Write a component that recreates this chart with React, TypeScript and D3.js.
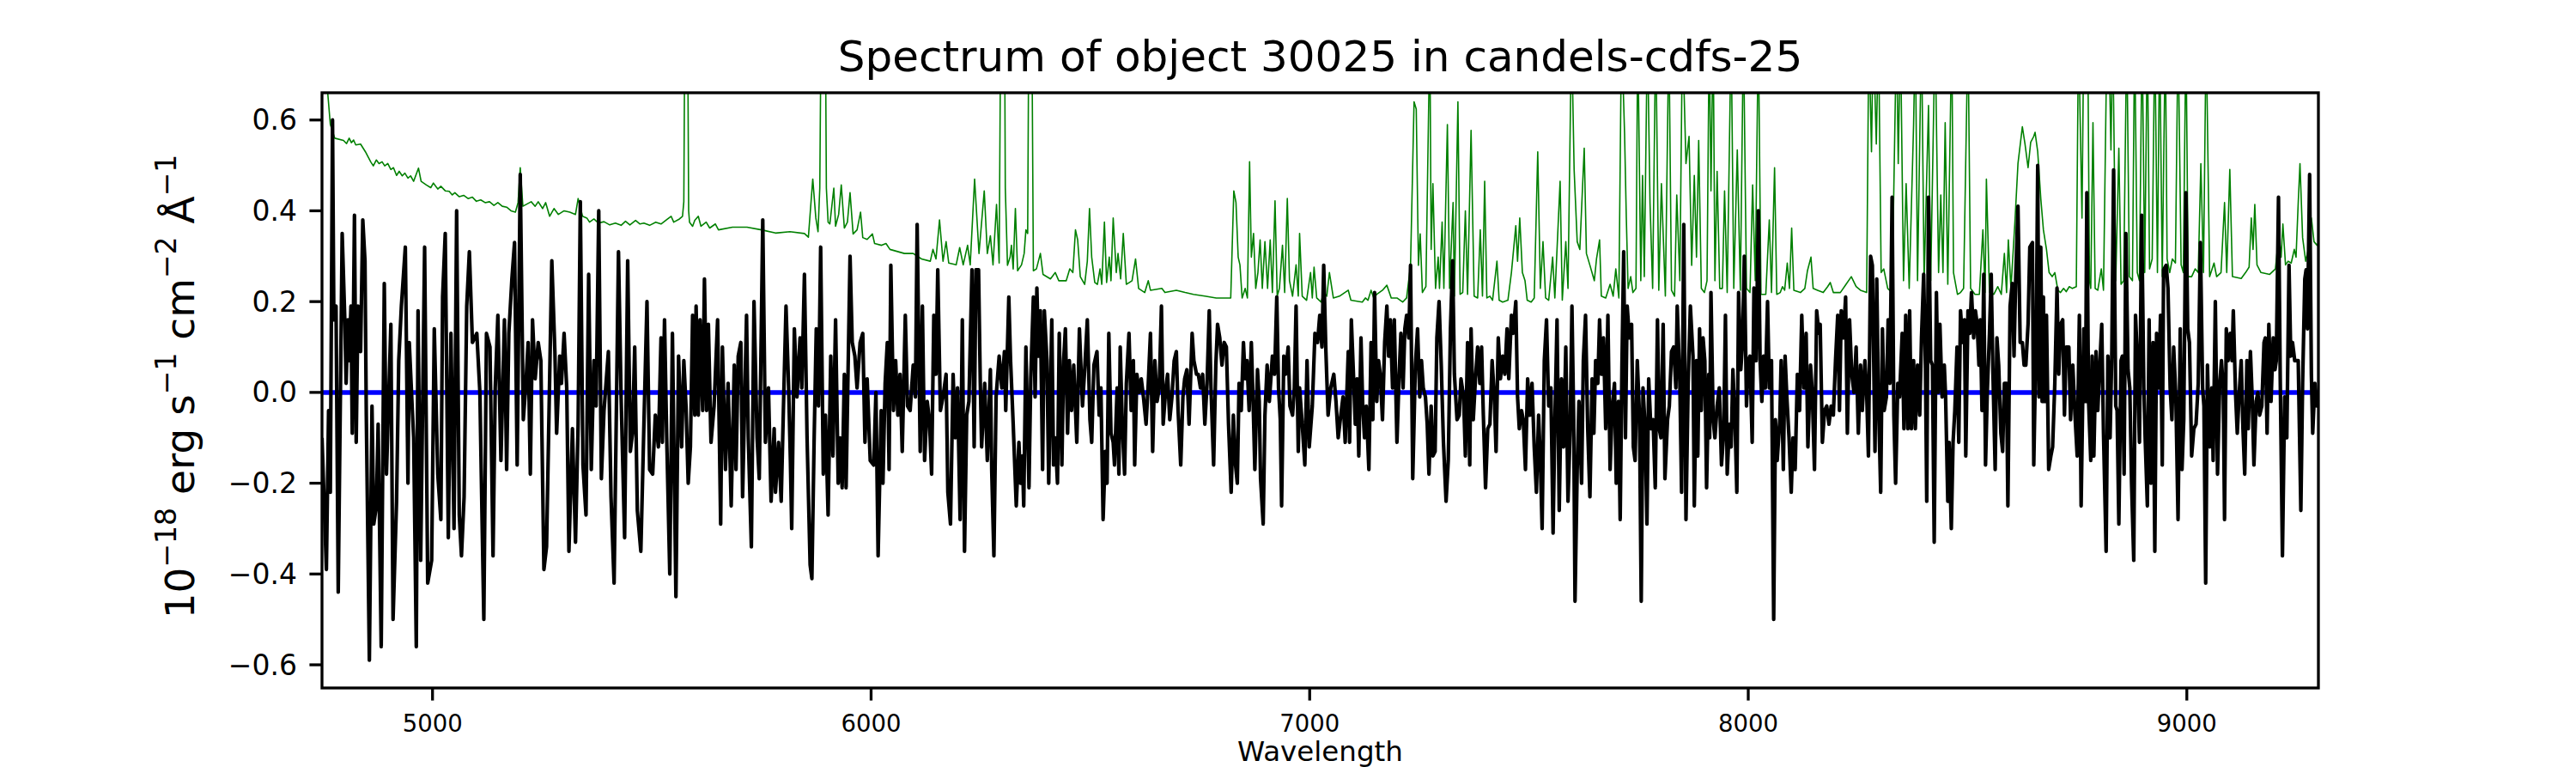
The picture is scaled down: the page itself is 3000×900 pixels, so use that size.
import * as d3 from "d3"

const title = "Spectrum of object 30025 in candels-cdfs-25"
const xTicks = [5000, 6000, 7000, 8000, 9000]
const yTicks = [-0.6, -0.4, -0.2, 0.0, 0.2, 0.4, 0.6]
const waveRange: [number, number] = [4748, 9300]
const fluxRange: [number, number] = [-0.651, 0.66]

// object flux, [wavelength (Å), flux]
const flux: [number, number][] = [
  [4748,-0.10],[4758,-0.39],[4763,-0.04],[4767,-0.22],[4772,0.60],[4775,0.16],[4780,0.19],[4785,-0.44],[4794,0.35],[4800,0.16],
  [4803,0.02],[4807,0.16],[4810,0.07],[4814,0.19],[4817,-0.09],[4822,0.39],[4826,-0.11],[4830,0.19],[4836,0.09],[4841,0.38],
  [4846,0.29],[4849,-0.05],[4856,-0.59],[4862,-0.03],[4866,-0.29],[4872,-0.25],[4876,-0.07],[4883,-0.56],[4890,0.24],[4895,-0.18],
  [4905,0.15],[4910,-0.50],[4918,-0.24],[4923,0.07],[4929,0.19],[4938,0.32],[4944,-0.20],[4947,0.11],[4954,-0.04],[4957,-0.10],
  [4963,-0.56],[4967,0.18],[4973,-0.37],[4982,0.32],[4989,-0.42],[4998,-0.37],[5004,0.14],[5012,-0.18],[5019,-0.28],[5023,0.21],
  [5029,0.35],[5036,-0.32],[5042,0.13],[5049,-0.30],[5055,0.40],[5061,-0.27],[5066,-0.36],[5072,-0.23],[5078,0.19],[5084,0.31],
  [5091,0.11],[5101,0.13],[5108,0.00],[5111,-0.17],[5117,-0.50],[5123,0.13],[5131,0.10],[5138,-0.36],[5143,0.01],[5149,0.17],
  [5156,-0.15],[5164,0.16],[5169,-0.17],[5174,0.13],[5181,0.25],[5187,0.33],[5193,-0.16],[5200,0.48],[5207,-0.06],[5213,0.02],
  [5218,0.11],[5223,-0.18],[5228,0.16],[5234,0.03],[5241,0.11],[5247,0.07],[5254,-0.39],[5260,-0.34],[5272,0.29],[5279,0.09],
  [5283,-0.09],[5290,0.08],[5294,0.02],[5300,0.13],[5306,0.01],[5311,-0.35],[5319,-0.08],[5326,-0.33],[5332,-0.07],[5337,0.42],
  [5343,-0.16],[5350,-0.27],[5356,0.26],[5362,-0.17],[5368,0.07],[5373,-0.03],[5379,0.40],[5385,-0.19],[5391,-0.04],[5401,0.09],
  [5407,-0.23],[5414,-0.42],[5424,0.31],[5430,-0.01],[5438,-0.32],[5445,0.29],[5451,-0.13],[5456,-0.09],[5461,0.10],[5467,-0.26],
  [5475,-0.35],[5482,-0.07],[5489,0.20],[5495,-0.17],[5502,-0.18],[5508,-0.05],[5515,-0.12],
  [5521,0.12],[5524,-0.11],[5529,0.16],[5534,-0.10],[5541,-0.40],[5547,0.13],[5555,-0.45],[5561,0.08],[5568,-0.12],[5573,0.07],
  [5578,-0.03],[5583,-0.20],[5588,-0.12],[5593,0.17],[5598,-0.05],[5601,0.19],[5606,-0.05],[5610,0.16],[5616,-0.04],[5620,0.25],
  [5625,-0.04],[5629,0.15],[5635,-0.11],[5642,-0.03],[5650,0.16],[5657,-0.29],[5661,0.10],[5668,-0.17],[5674,0.02],[5681,-0.25],
  [5688,0.06],[5692,-0.17],[5697,0.08],[5703,0.11],[5707,-0.23],[5716,0.17],[5720,-0.10],[5727,-0.34],[5733,0.20],[5740,-0.10],
  [5745,-0.19],[5753,0.38],[5759,-0.11],[5766,0.01],[5772,-0.24],[5779,-0.08],[5782,-0.22],[5789,-0.11],[5795,-0.24],[5800,-0.04],
  [5806,0.19],[5812,0.01],[5816,-0.15],[5819,-0.30],[5825,0.14],[5831,-0.01],[5838,0.12],[5842,0.01],[5848,0.26],[5854,-0.10],
  [5861,-0.38],[5865,-0.41],[5870,-0.11],[5875,0.14],[5880,-0.03],[5885,0.32],[5891,-0.18],[5896,-0.05],[5902,-0.27],[5908,0.08],
  [5913,-0.14],[5919,0.16],[5925,-0.20],[5929,-0.10],[5934,-0.21],[5939,0.04],[5943,-0.21],[5947,0.02],[5952,0.30],[5957,0.11],
  [5963,0.08],[5968,0.01],[5975,0.11],[5981,0.13],[5986,-0.11],[5991,0.03],[5998,-0.15],[6006,-0.16],[6011,0.00],[6016,-0.36],
  [6023,-0.04],[6027,-0.20],[6032,0.02],[6037,0.11],[6041,-0.17],[6045,0.28],[6051,-0.04],[6056,0.07],[6061,-0.05],[6066,0.04],
  [6071,-0.13],[6078,0.17],[6083,-0.03],[6089,-0.04],[6096,0.06],[6101,-0.01],[6105,0.37],[6112,-0.13],[6117,0.19],[6122,-0.15],
  [6128,-0.02],[6133,-0.06],[6138,-0.18],[6143,0.17],[6148,0.04],[6152,0.27],[6158,-0.04],[6164,-0.01],[6171,0.04],[6175,-0.22],
  [6181,-0.29],[6187,0.04],[6192,-0.10],[6197,0.01],[6203,-0.28],[6208,0.16],[6213,-0.35],[6218,-0.05],[6223,-0.02],[6230,0.27],
  [6235,-0.12],[6239,0.27],[6245,0.27],[6249,0.02],[6252,-0.12],[6259,0.02],[6265,-0.15],[6272,0.05],[6275,-0.17],[6280,-0.36],
  [6285,-0.01],[6292,0.08],[6298,0.01],
  [6304,0.09],[6307,-0.04],[6314,0.21],[6318,0.07],[6324,-0.07],[6331,-0.25],[6337,-0.11],[6341,-0.20],[6345,-0.14],[6348,-0.25],
  [6353,0.10],[6360,-0.21],[6364,0.03],[6370,0.21],[6374,-0.01],[6378,0.23],[6382,0.08],[6386,0.18],[6391,-0.17],[6395,0.18],
  [6401,0.07],[6405,-0.20],[6412,0.16],[6416,-0.16],[6420,-0.10],[6425,-0.20],[6429,0.13],[6435,-0.16],[6439,0.07],[6443,0.14],
  [6448,-0.09],[6452,0.07],[6457,-0.04],[6462,0.06],[6469,-0.11],[6475,0.14],[6482,-0.03],[6487,0.05],[6493,0.16],[6499,-0.06],
  [6503,-0.11],[6508,0.06],[6515,0.09],[6520,-0.05],[6524,0.01],[6529,-0.28],[6534,-0.13],[6538,-0.20],[6542,0.13],[6547,-0.09],
  [6552,-0.11],[6555,-0.16],[6561,0.01],[6565,-0.18],[6568,0.10],[6573,-0.08],[6578,-0.18],[6582,0.02],[6588,0.13],[6593,-0.04],
  [6598,0.07],[6601,-0.16],[6606,0.04],[6611,0.00],[6616,0.03],[6621,-0.01],[6627,-0.07],[6632,0.02],[6637,0.13],[6642,-0.13],
  [6647,0.07],[6652,-0.02],[6657,0.01],[6662,0.19],[6666,-0.07],[6672,0.01],[6676,0.04],[6681,-0.06],[6686,-0.01],[6691,0.07],
  [6696,0.09],[6700,-0.04],[6706,-0.16],[6711,-0.01],[6715,0.03],[6720,0.05],[6725,-0.07],[6732,0.13],[6736,0.07],[6742,0.04],
  [6746,0.04],[6751,0.01],[6756,0.04],[6761,-0.07],[6766,0.02],[6771,0.18],[6775,0.01],[6781,-0.16],[6786,0.06],[6790,0.15],
  [6795,0.12],[6800,0.06],[6805,0.11],[6810,0.10],[6815,-0.07],[6821,-0.22],[6826,-0.05],[6831,-0.16],[6835,-0.20],[6839,0.02],
  [6844,-0.04],[6849,0.11],[6853,0.03],[6857,0.07],[6862,-0.04],[6867,0.11],[6871,-0.02],[6875,-0.17],[6881,0.05],[6885,-0.02],
  [6888,-0.19],[6894,-0.29],[6898,-0.05],[6903,0.06],[6908,-0.02],[6915,0.08],[6920,0.04],[6925,0.21],[6929,0.01],[6933,-0.06],
  [6936,-0.25],[6941,0.08],[6945,0.04],[6951,0.10],[6955,-0.03],[6961,-0.05],[6965,0.01],[6969,0.19],[6974,-0.13],[6977,0.01],
  [6983,-0.07],[6989,-0.16],[6994,0.07],[6999,-0.12],[7006,-0.03],[7012,0.13],[7018,0.11],[7023,0.17],[7028,0.10],[7032,0.28],
  [7037,0.09],[7042,-0.05],[7048,0.01],[7055,0.04],[7060,-0.02],[7065,-0.10],[7071,-0.05],[7076,-0.01],[7081,-0.11],
  [7088,0.09],[7091,-0.11],[7095,0.16],[7101,0.01],[7104,-0.07],[7108,0.03],[7112,-0.14],[7117,0.12],[7121,-0.03],[7125,-0.10],
  [7129,-0.03],[7135,-0.17],[7140,0.11],[7144,-0.06],[7148,0.22],[7153,-0.02],[7157,0.07],[7161,0.04],[7166,-0.06],[7171,0.11],
  [7176,0.19],[7180,0.08],[7184,0.16],[7189,0.01],[7193,0.16],[7199,-0.11],[7204,0.04],[7208,0.13],[7213,0.01],[7217,0.14],
  [7221,0.17],[7226,0.12],[7230,0.28],[7235,-0.19],[7241,0.06],[7246,0.14],[7251,-0.01],[7255,0.07],[7259,0.01],[7264,-0.01],
  [7268,-0.07],[7272,-0.18],[7277,-0.03],[7281,-0.14],[7286,-0.13],[7290,0.12],[7295,0.20],[7300,0.06],[7305,-0.11],[7311,-0.24],
  [7316,-0.15],[7321,0.14],[7326,0.29],[7330,0.04],[7336,-0.06],[7341,-0.05],[7345,0.03],[7351,-0.01],[7355,-0.14],[7360,0.11],
  [7365,-0.16],[7368,0.14],[7373,-0.06],[7378,0.03],[7383,0.10],[7388,0.02],[7392,0.10],[7396,-0.05],[7401,-0.21],[7406,-0.08],
  [7411,-0.07],[7416,0.07],[7421,-0.01],[7425,-0.13],[7430,0.12],[7435,0.03],[7440,0.08],[7445,0.04],[7450,0.14],[7454,0.03],
  [7460,0.17],[7464,0.13],[7470,0.20],[7474,-0.01],[7478,-0.08],[7483,-0.04],[7487,-0.06],[7492,-0.17],[7497,0.03],[7502,-0.05],
  [7507,0.02],[7512,-0.12],[7517,-0.22],[7522,-0.05],[7526,-0.15],[7530,-0.30],[7535,0.07],[7540,0.16],[7545,-0.03],[7550,0.01],
  [7555,-0.31],[7559,-0.07],[7564,0.16],[7569,-0.26],[7574,0.03],[7579,-0.12],[7584,0.10],[7589,-0.24],[7594,-0.08],[7598,0.19],
  [7602,-0.06],[7605,-0.46],[7610,-0.17],[7614,-0.02],[7620,-0.20],[7624,0.07],[7629,0.17],[7634,-0.08],[7639,-0.23],[7644,0.03],
  [7648,-0.09],[7652,0.07],[7657,0.02],[7661,0.16],[7665,0.04],[7670,0.12],[7675,-0.08],[7680,0.17],[7685,-0.17],[7690,-0.03],
  [7695,0.02],[7699,-0.20],[7704,-0.02],[7708,-0.28],[7712,0.06],[7716,0.31],[7720,-0.10],[7724,0.19],[7729,0.12],[7734,0.15],
  [7738,-0.12],[7742,-0.15],[7747,0.07],[7752,-0.05],[7756,-0.46],[7760,0.01],[7765,-0.08],[7769,-0.29],[7773,0.03],[7778,-0.08],
  [7783,-0.06],[7788,-0.21],[7793,0.16],[7797,-0.08],[7801,-0.10],[7806,0.15],[7810,-0.19],[7816,-0.06],[7820,-0.03],[7825,0.09],
  [7830,0.10],[7835,0.01],[7838,0.19],[7844,0.02],[7848,-0.22],[7853,0.37],[7858,-0.28],[7863,0.02],
  [7868,0.19],[7874,0.08],[7877,-0.25],[7882,0.07],[7885,-0.14],[7889,0.14],[7893,-0.04],[7897,0.12],[7901,0.07],[7905,-0.21],
  [7910,0.04],[7912,-0.10],[7915,0.22],[7920,-0.06],[7924,-0.10],[7929,-0.03],[7934,0.01],[7939,-0.16],[7944,-0.09],[7948,0.17],
  [7952,-0.18],[7957,-0.07],[7961,-0.12],[7965,0.05],[7970,-0.07],[7974,-0.22],[7978,0.22],[7983,0.05],[7987,0.11],[7991,0.30],
  [7996,-0.03],[8000,0.07],[8004,0.08],[8009,-0.11],[8013,0.23],[8018,0.07],[8023,0.40],[8027,0.07],[8031,-0.02],[8035,0.08],
  [8039,0.01],[8044,0.20],[8048,0.01],[8053,0.07],[8058,-0.50],[8062,-0.06],[8066,-0.15],[8072,-0.06],[8075,0.07],[8080,-0.17],
  [8084,0.08],[8088,-0.01],[8093,-0.10],[8098,-0.22],[8102,-0.10],[8107,-0.17],[8112,0.04],[8117,-0.04],[8122,0.17],[8127,0.01],
  [8132,0.13],[8136,-0.12],[8142,0.06],[8146,0.00],[8151,-0.17],[8156,0.18],[8161,0.13],[8164,0.15],[8169,-0.11],[8174,-0.04],
  [8179,-0.03],[8184,-0.07],[8189,-0.03],[8194,-0.05],[8199,0.07],[8204,0.17],[8208,-0.04],[8212,0.18],[8217,0.12],[8222,0.21],
  [8226,-0.09],[8231,0.16],[8236,0.04],[8241,0.00],[8246,0.10],[8251,-0.09],[8256,0.06],[8260,-0.04],[8266,0.07],[8270,0.00],
  [8274,-0.14],[8279,0.30],[8283,0.28],[8289,-0.13],[8293,0.25],[8297,-0.02],[8302,-0.22],[8306,0.14],[8310,-0.04],[8315,-0.01],
  [8319,0.16],[8323,0.02],[8328,0.43],[8332,-0.05],[8336,-0.20],[8341,0.02],[8345,-0.01],[8351,0.13],[8355,-0.08],[8359,0.17],
  [8364,-0.08],[8368,0.18],[8372,-0.08],[8377,0.07],[8381,-0.08],[8386,0.06],[8391,-0.05],[8395,0.12],[8400,0.26],[8404,0.06],
  [8407,-0.24],[8411,0.43],[8416,0.07],[8420,0.06],[8424,-0.33],[8429,0.22],[8433,0.00],[8437,0.15],[8442,-0.01],[8447,0.06],
  [8450,-0.01],[8455,-0.24],[8458,-0.11],[8463,-0.30],[8467,-0.11],[8471,-0.04],[8476,0.10],[8480,-0.11],[8484,0.18],[8489,0.11],
  [8493,0.16],[8496,-0.14],[8501,0.18],[8505,0.13],[8509,0.22],[8514,0.12],[8518,0.18],[8522,0.15],[8526,0.06],[8529,0.16],
  [8533,-0.04],[8537,0.26],[8541,-0.16],[8545,0.00],[8550,0.13],[8554,0.26],[8558,0.04],[8563,-0.17],[8567,0.12],[8571,0.06],
  [8576,-0.09],[8580,-0.13],[8584,0.02],[8589,0.02],[8592,-0.25],[8597,0.19],[8602,0.24],[8606,0.08],[8610,0.26],[8615,0.41],
  [8620,0.11],[8625,0.11],[8629,0.06],[8633,0.06],[8638,0.15],[8642,0.32],[8648,0.33],[8651,-0.16],
  [8657,0.16],[8660,0.50],[8663,-0.01],[8667,0.32],[8670,-0.02],[8673,0.21],[8676,-0.02],[8680,0.17],[8685,-0.17],[8690,-0.14],
  [8694,-0.12],[8699,0.02],[8704,0.23],[8708,0.04],[8712,0.15],[8717,0.16],[8721,-0.05],[8725,0.10],[8731,0.10],[8735,-0.06],
  [8740,0.06],[8745,-0.05],[8750,-0.14],[8755,0.17],[8759,-0.25],[8765,0.14],[8769,-0.02],[8772,0.44],[8776,-0.02],[8781,-0.15],
  [8784,0.08],[8788,-0.14],[8793,0.09],[8797,-0.04],[8802,0.07],[8806,0.15],[8810,-0.09],[8816,-0.35],[8820,0.08],[8825,-0.10],
  [8829,0.09],[8833,0.49],[8838,-0.03],[8841,-0.04],[8845,-0.29],[8850,0.07],[8853,0.08],[8857,-0.18],[8861,0.35],[8866,0.05],
  [8870,0.01],[8874,-0.20],[8879,-0.37],[8883,0.17],[8887,0.08],[8892,-0.11],[8897,0.39],[8902,0.01],[8905,-0.10],[8910,-0.25],
  [8914,0.16],[8918,-0.20],[8923,0.11],[8927,-0.35],[8931,0.13],[8936,0.01],[8940,0.17],[8944,-0.16],[8947,0.27],[8953,0.28],
  [8957,0.23],[8962,0.01],[8966,-0.06],[8970,0.10],[8975,-0.01],[8980,-0.28],[8985,0.14],[8989,-0.17],[8993,-0.06],[8998,0.44],
  [9002,0.14],[9006,0.11],[9011,-0.14],[9016,-0.08],[9021,-0.07],[9026,0.02],[9031,0.33],[9036,0.01],[9039,-0.03],[9043,-0.42],
  [9047,0.06],[9052,-0.12],[9057,0.01],[9060,-0.15],[9065,0.20],[9070,-0.18],[9075,0.02],[9079,0.07],[9083,0.01],[9086,-0.28],
  [9090,0.14],[9094,0.07],[9099,0.13],[9103,0.07],[9106,0.18],[9111,0.00],[9115,-0.09],[9119,-0.01],[9124,0.07],[9128,-0.08],
  [9132,-0.18],[9137,0.07],[9140,-0.08],[9145,0.09],[9149,-0.01],[9153,-0.16],[9158,-0.02],[9162,0.00],[9166,-0.05],[9171,-0.03],
  [9176,0.11],[9179,0.12],[9183,-0.09],[9187,0.15],[9192,-0.02],[9197,0.12],[9201,0.05],[9204,0.07],[9209,0.43],[9213,0.03],
  [9218,-0.36],[9223,-0.01],[9228,-0.10],[9233,0.28],[9237,0.08],[9241,0.11],[9246,0.07],[9250,0.07],[9254,0.07],[9260,-0.26],
  [9264,0.02],[9269,0.25],[9272,0.27],[9275,0.14],[9280,0.48],[9284,0.04],[9287,-0.09],[9292,0.02],[9297,-0.03],[9300,-0.03],
]

// noise / sky spectrum (green), [wavelength (Å), flux]
const noise: [number, number][] = [
  [4748,0.78],[4761,0.66],[4767,0.59],[4777,0.56],[4797,0.555],[4804,0.548],[4810,0.56],[4815,0.55],[4820,0.556],[4825,0.545],
  [4836,0.547],[4847,0.53],[4859,0.508],[4865,0.499],[4872,0.512],[4878,0.504],[4885,0.508],[4891,0.499],[4898,0.504],[4905,0.491],
  [4911,0.495],[4918,0.478],[4924,0.487],[4931,0.477],[4937,0.483],[4944,0.472],[4950,0.477],[4957,0.465],[4968,0.494],[4974,0.465],
  [4986,0.457],[4996,0.451],[5002,0.461],[5012,0.448],[5019,0.454],[5029,0.444],[5038,0.443],[5045,0.435],[5051,0.44],[5061,0.431],
  [5071,0.434],[5081,0.427],[5091,0.43],[5100,0.421],[5110,0.424],[5120,0.418],[5130,0.42],[5140,0.412],[5149,0.418],[5159,0.41],
  [5169,0.408],[5179,0.40],[5189,0.397],[5195,0.418],[5200,0.495],[5206,0.41],[5225,0.42],[5234,0.41],[5241,0.42],[5251,0.405],
  [5258,0.418],[5267,0.388],[5277,0.405],[5287,0.392],[5300,0.40],[5313,0.397],[5326,0.392],[5332,0.427],[5342,0.388],[5352,0.384],
  [5358,0.375],[5368,0.382],[5378,0.373],[5391,0.376],[5404,0.369],[5417,0.373],[5430,0.368],[5440,0.377],[5450,0.369],[5463,0.379],
  [5473,0.371],[5482,0.373],[5495,0.368],[5509,0.375],
  [5521,0.371],[5544,0.388],[5550,0.375],[5563,0.382],[5570,0.388],[5573,0.42],[5576,0.95],[5581,0.95],[5584,0.40],[5586,0.375],
  [5593,0.366],[5598,0.379],[5606,0.388],[5612,0.366],[5624,0.375],[5632,0.362],[5645,0.371],[5652,0.358],[5684,0.364],[5717,0.364],
  [5750,0.358],[5782,0.351],[5815,0.354],[5848,0.35],[5857,0.342],[5867,0.47],[5874,0.384],[5879,0.354],[5883,0.45],[5887,0.95],
  [5895,0.95],[5898,0.45],[5902,0.375],[5906,0.371],[5915,0.45],[5919,0.366],[5926,0.392],[5932,0.457],[5939,0.362],[5946,0.375],
  [5952,0.44],[5959,0.349],[5968,0.358],[5976,0.397],[5981,0.341],[5991,0.337],[6003,0.349],[6008,0.328],[6024,0.324],[6034,0.328],
  [6043,0.315],[6076,0.306],[6096,0.306],[6115,0.294],[6135,0.289],[6141,0.315],[6148,0.294],[6156,0.38],[6164,0.289],[6171,0.332],
  [6177,0.285],[6194,0.281],[6202,0.319],[6210,0.281],[6220,0.324],[6226,0.281],[6236,0.47],[6246,0.306],[6258,0.444],[6265,0.306],
  [6272,0.345],[6278,0.281],[6286,0.414],[6292,0.285],[6296,0.9],
  [6304,0.9],[6306,0.45],[6311,0.28],[6317,0.298],[6320,0.324],[6324,0.272],[6329,0.405],[6334,0.268],[6343,0.281],[6349,0.306],
  [6353,0.358],[6357,0.35],[6360,0.9],[6366,0.9],[6370,0.268],[6377,0.272],[6386,0.306],[6392,0.26],[6409,0.25],[6420,0.264],
  [6428,0.246],[6445,0.246],[6453,0.272],[6460,0.264],[6466,0.358],[6471,0.336],[6477,0.255],[6487,0.238],[6493,0.289],[6498,0.405],
  [6503,0.298],[6510,0.242],[6516,0.238],[6522,0.272],[6526,0.238],[6532,0.375],[6537,0.242],[6543,0.298],[6547,0.246],[6552,0.384],
  [6559,0.264],[6563,0.306],[6569,0.25],[6575,0.35],[6582,0.238],[6595,0.246],[6603,0.294],[6610,0.229],[6624,0.22],[6632,0.246],
  [6637,0.225],[6663,0.229],[6670,0.22],[6696,0.225],[6716,0.22],[6735,0.216],[6761,0.212],[6787,0.208],[6820,0.208],[6827,0.444],
  [6832,0.418],[6837,0.298],[6841,0.281],[6846,0.208],[6853,0.229],[6858,0.208],[6863,0.508],[6867,0.298],[6872,0.35],[6877,0.229],
  [6882,0.264],[6887,0.336],[6892,0.229],[6898,0.332],[6904,0.229],[6910,0.336],[6915,0.22],[6921,0.422],[6926,0.212],[6931,0.229],
  [6938,0.324],[6943,0.22],[6949,0.427],[6954,0.246],[6961,0.212],[6969,0.281],[6974,0.212],[6977,0.35],[6983,0.212],[6993,0.203],
  [7002,0.264],[7006,0.208],[7010,0.276],[7016,0.208],[7026,0.199],[7032,0.22],[7039,0.212],[7045,0.264],[7054,0.208],[7068,0.212],
  [7088,0.225],[7094,0.203],[7120,0.199],[7127,0.208],[7133,0.203],[7140,0.225],[7146,0.208],[7153,0.216],[7166,0.225],[7176,0.236],
  [7186,0.208],[7199,0.208],[7212,0.199],[7221,0.208],[7230,0.28],[7238,0.64],[7243,0.624],[7248,0.28],[7252,0.349],[7257,0.22],
  [7265,0.233],[7274,0.8],[7277,0.315],[7281,0.46],[7287,0.229],[7293,0.298],[7296,0.229],[7302,0.375],[7306,0.229],[7314,0.59],
  [7319,0.229],[7327,0.418],[7330,0.212],[7338,0.64],[7343,0.216],[7349,0.22],[7355,0.40],[7360,0.216],[7368,0.577],[7375,0.212],
  [7383,0.208],[7389,0.358],[7394,0.212],[7399,0.465],[7404,0.208],[7411,0.212],[7417,0.203],[7427,0.289],[7432,0.203],[7440,0.199],
  [7452,0.203],[7460,0.264],[7470,0.367],[7474,0.289],[7479,0.384],[7485,0.264],[7491,0.246],[7496,0.203],[7505,0.199],[7512,0.208],
  [7520,0.53],[7526,0.229],[7532,0.332],[7538,0.208],[7545,0.203],[7554,0.298],[7559,0.208],[7571,0.465],[7576,0.203],[7584,0.332],
  [7589,0.229],[7597,0.8],[7603,0.49],[7610,0.332],[7616,0.315],[7626,0.538],[7631,0.306],[7639,0.28],[7649,0.246],[7654,0.294],
  [7661,0.336],[7665,0.212],[7675,0.208],[7685,0.238],[7692,0.212],[7698,0.272],[7705,0.208],[7711,0.8],[7718,0.57],[7722,0.384],
  [7726,0.229],[7732,0.255],[7737,0.22],[7744,0.229],[7748,0.8],[7755,0.246],[7759,0.478],[7763,0.255],[7770,0.8],[7776,0.418],
  [7782,0.229],[7789,0.8],[7796,0.225],[7802,0.46],[7811,0.212],[7819,0.8],[7825,0.225],[7832,0.212],[7837,0.435],[7844,0.246],
  [7850,0.8],[7858,0.504],[7865,0.564],
  [7871,0.28],[7877,0.478],[7882,0.298],[7887,0.555],[7893,0.229],[7900,0.22],[7906,0.246],[7911,0.8],[7915,0.444],[7920,0.8],
  [7924,0.246],[7929,0.487],[7935,0.229],[7941,0.229],[7946,0.444],[7952,0.22],[7961,0.8],[7967,0.229],[7975,0.534],[7982,0.225],
  [7989,0.8],[7996,0.229],[8004,0.22],[8010,0.457],[8016,0.246],[8023,0.8],[8029,0.216],[8040,0.216],[8048,0.38],[8053,0.22],
  [8060,0.495],[8065,0.216],[8073,0.22],[8078,0.233],[8083,0.225],[8089,0.285],[8094,0.229],[8099,0.362],[8104,0.225],[8119,0.22],
  [8129,0.229],[8135,0.268],[8143,0.298],[8148,0.229],[8158,0.225],[8171,0.22],[8181,0.233],[8187,0.242],[8194,0.22],[8210,0.22],
  [8223,0.238],[8235,0.255],[8246,0.233],[8256,0.225],[8270,0.22],[8275,0.8],[8281,0.53],[8285,0.8],[8292,0.547],[8297,0.8],
  [8303,0.264],[8309,0.272],[8318,0.229],[8328,0.22],[8338,0.8],[8342,0.504],[8347,0.8],[8354,0.246],[8360,0.46],[8367,0.229],
  [8377,0.59],[8381,0.8],[8386,0.246],[8395,0.8],[8401,0.246],[8411,0.632],[8416,0.246],[8426,0.8],[8434,0.264],[8439,0.435],
  [8444,0.264],[8449,0.594],[8455,0.238],[8464,0.8],[8468,0.264],[8477,0.216],[8484,0.22],[8491,0.229],[8501,0.8],[8507,0.229],
  [8517,0.216],[8527,0.216],[8535,0.358],[8540,0.22],[8543,0.47],[8550,0.22],[8560,0.216],[8569,0.233],[8577,0.216],[8584,0.306],
  [8589,0.22],[8593,0.336],[8599,0.229],[8608,0.375],[8615,0.504],[8625,0.585],[8631,0.547],[8638,0.495],[8644,0.551],[8651,0.564],
  [8654,0.573],[8660,0.53],[8667,0.427],[8673,0.358],[8680,0.315],[8686,0.264],[8693,0.255],[8699,0.264],[8706,0.225],[8712,0.22],
  [8719,0.229],[8725,0.222],[8732,0.233],[8739,0.229],[8748,0.233],[8753,0.8],[8761,0.384],[8765,0.8],[8774,0.8],[8778,0.246],
  [8781,0.229],[8786,0.594],[8791,0.229],[8797,0.225],[8805,0.272],[8810,0.225],[8818,0.8],[8822,0.8],[8827,0.534],[8831,0.8],
  [8838,0.246],[8845,0.538],[8850,0.238],[8856,0.246],[8863,0.8],[8869,0.255],[8876,0.246],[8881,0.8],[8887,0.264],[8892,0.246],
  [8898,0.8],[8904,0.264],[8910,0.8],[8915,0.272],[8921,0.294],[8927,0.8],[8933,0.264],[8938,0.8],[8944,0.255],[8951,0.8],
  [8955,0.294],[8961,0.264],[8967,0.294],[8974,0.285],[8980,0.8],[8987,0.281],[8992,0.264],[8998,0.8],[9003,0.255],[9011,0.255],
  [9019,0.272],[9026,0.264],[9032,0.504],[9038,0.264],[9044,0.8],[9052,0.255],[9062,0.285],[9068,0.255],[9078,0.264],[9086,0.418],
  [9091,0.264],[9098,0.491],[9104,0.255],[9124,0.251],[9134,0.264],[9142,0.276],[9147,0.384],[9151,0.315],[9155,0.414],[9160,0.281],
  [9169,0.264],[9189,0.26],[9202,0.272],[9210,0.349],[9215,0.298],[9219,0.371],[9225,0.281],[9231,0.289],[9238,0.285],[9245,0.315],
  [9249,0.298],[9254,0.418],[9258,0.504],[9264,0.341],[9271,0.289],[9277,0.315],[9284,0.384],[9290,0.332],[9297,0.324],[9300,0.33],
]

// zero level
const zeroLine: [number, number][] = [[4748, 0], [9300, 0]]

const W = 3000
const H = 900
const margin = { top: 108, right: 300, bottom: 99, left: 375 }
const font = "DejaVu Sans, Liberation Sans, sans-serif"

export default function App() {
  const innerW = W - margin.left - margin.right
  const innerH = H - margin.top - margin.bottom

  const x = d3.scaleLinear().domain(waveRange).range([0, innerW])
  const y = d3.scaleLinear().domain(fluxRange).range([innerH, 0])

  const line = d3
    .line<[number, number]>()
    .x((d) => x(d[0]))
    .y((d) => y(d[1]))

  const fmt = d3.format(".1f")
  const tickLen = 14.6
  const lab = 47
  const sup = 33
  const raise = 21

  return (
    <svg
      width={W}
      height={H}
      style={{ position: "absolute", left: 0, top: 0, background: "#fff" }}
      fontFamily={font}
    >
      <rect width={W} height={H} fill="#fff" />
      <text x={margin.left + innerW / 2} y={83} fontSize={50} textAnchor="middle" fill="#000">
        {title}
      </text>

      <g transform={`translate(${margin.left},${margin.top})`}>
        <defs>
          <clipPath id="plot-area">
            <rect width={innerW} height={innerH} />
          </clipPath>
        </defs>

        <g clipPath="url(#plot-area)">
          <path d={line(noise) || ""} fill="none" stroke="#008000" strokeWidth={1.6} strokeLinejoin="round" />
          <path d={line(zeroLine) || ""} fill="none" stroke="#0000ff" strokeWidth={5.5} />
          <path d={line(flux) || ""} fill="none" stroke="#000" strokeWidth={4.2} strokeLinejoin="round" />
        </g>

        {/* x axis */}
        {xTicks.map((t) => (
          <g key={t} transform={`translate(${x(t)},${innerH})`}>
            <line y2={tickLen} stroke="#000" strokeWidth={3.3} />
            <text y={51} fontSize={27.5} textAnchor="middle" fill="#000">
              {t}
            </text>
          </g>
        ))}
        <text x={innerW / 2} y={886 - margin.top} fontSize={32.5} textAnchor="middle" fill="#000">
          Wavelength
        </text>

        {/* y axis */}
        {yTicks.map((t) => (
          <g key={t} transform={`translate(0,${y(t)})`}>
            <line x2={-tickLen} stroke="#000" strokeWidth={3.3} />
            <text x={-29} dy="0.35em" fontSize={33} textAnchor="end" fill="#000">
              {fmt(t)}
            </text>
          </g>
        ))}

        <rect width={innerW} height={innerH} fill="none" stroke="#000" strokeWidth={3.3} />
      </g>

      <text transform={`translate(226,450) rotate(-90)`} fontSize={lab} textAnchor="middle" fill="#000">
        <tspan>10</tspan>
        <tspan fontSize={sup} dy={-raise}>{"\u221218"}</tspan>
        <tspan dy={raise}>{" erg s"}</tspan>
        <tspan fontSize={sup} dy={-raise}>{"\u22121"}</tspan>
        <tspan dy={raise}>{" cm"}</tspan>
        <tspan fontSize={sup} dy={-raise}>{"\u22122"}</tspan>
        <tspan dy={raise}>{" \u00c5"}</tspan>
        <tspan fontSize={sup} dy={-raise}>{"\u22121"}</tspan>
      </text>
    </svg>
  )
}
